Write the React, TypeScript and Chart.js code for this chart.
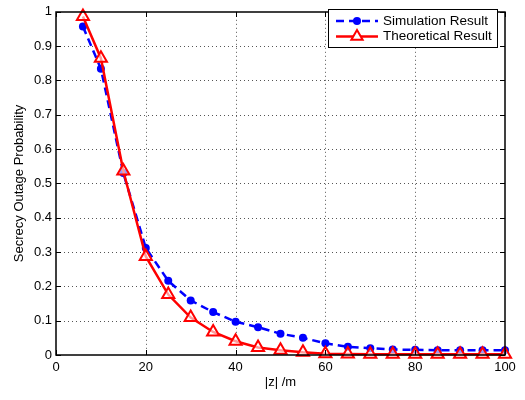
import React, { useEffect, useRef } from "react";
import { Chart, registerables } from "chart.js";
Chart.register(...registerables);

const distances = [6, 10, 15, 20, 25, 30, 35, 40, 45, 50, 55, 60, 65, 70, 75, 80, 85, 90, 95, 100];
const simulation = [0.957, 0.834, 0.53, 0.312, 0.216, 0.159, 0.125, 0.097, 0.081, 0.062, 0.05, 0.034, 0.024, 0.02, 0.016, 0.015, 0.014, 0.014, 0.014, 0.014];
const theoretical = [0.986, 0.865, 0.536, 0.287, 0.176, 0.109, 0.067, 0.04, 0.022, 0.014, 0.008, 0.004, 0.003, 0.002, 0.002, 0.002, 0.002, 0.002, 0.002, 0.002];
const xTicks = [0, 20, 40, 60, 80, 100];
const yTicks = [0, 0.1, 0.2, 0.3, 0.4, 0.5, 0.6, 0.7, 0.8, 0.9, 1];
const seriesLabels = ["Simulation Result", "Theoretical Result"];
const xTitle = "|z| /m";
const yTitle = "Secrecy Outage Probability";

const FONT = "Liberation Sans, Arial, Helvetica, sans-serif";

const matlabPlugin = {
  id: "matlabDecor",
  beforeDatasetsDraw(chart: any) {
    const { ctx, chartArea: a, scales } = chart;
    ctx.save();
    ctx.strokeStyle = "#555";
    ctx.lineWidth = 1;
    ctx.setLineDash([1, 3]);
    xTicks.forEach((v) => {
      const px = Math.round(scales.x.getPixelForValue(v)) + 0.5;
      if (v === 0 || v === 100) return;
      ctx.beginPath();
      ctx.moveTo(px, a.top);
      ctx.lineTo(px, a.bottom);
      ctx.stroke();
    });
    yTicks.forEach((v) => {
      if (v === 0 || v === 1) return;
      const py = Math.round(scales.y.getPixelForValue(v)) + 0.5;
      ctx.beginPath();
      ctx.moveTo(a.left, py);
      ctx.lineTo(a.right, py);
      ctx.stroke();
    });
    ctx.restore();
  },
  afterDraw(chart: any) {
    const { ctx, chartArea: a, scales } = chart;
    ctx.save();
    ctx.setLineDash([]);
    ctx.strokeStyle = "#000";
    ctx.lineWidth = 1.5;
    const L = Math.round(a.left), R = Math.round(a.right);
    const T = Math.round(a.top), B = Math.round(a.bottom);
    ctx.strokeRect(L, T, R - L, B - T);
    ctx.lineWidth = 1;
    const tl = 5;
    xTicks.forEach((v) => {
      const px = Math.round(scales.x.getPixelForValue(v)) + 0.5;
      ctx.beginPath();
      ctx.moveTo(px, B); ctx.lineTo(px, B - tl);
      ctx.moveTo(px, T); ctx.lineTo(px, T + tl);
      ctx.stroke();
    });
    yTicks.forEach((v) => {
      const py = Math.round(scales.y.getPixelForValue(v)) + 0.5;
      ctx.beginPath();
      ctx.moveTo(L, py); ctx.lineTo(L + tl, py);
      ctx.moveTo(R, py); ctx.lineTo(R - tl, py);
      ctx.stroke();
    });
    // legend
    const bx = 328.5, by = 9.5, bw = 169, bh = 38;
    ctx.fillStyle = "#fff";
    ctx.fillRect(bx, by, bw, bh);
    ctx.strokeRect(bx, by, bw, bh);
    const rows = [by + 11.5, by + 27];
    ctx.strokeStyle = "#0000ff";
    ctx.lineWidth = 2.5;
    ctx.setLineDash([8, 5]);
    ctx.beginPath();
    ctx.moveTo(336, rows[0]); ctx.lineTo(378, rows[0]);
    ctx.stroke();
    ctx.setLineDash([]);
    ctx.fillStyle = "#0000ff";
    ctx.beginPath();
    ctx.arc(357, rows[0], 4, 0, Math.PI * 2);
    ctx.fill();
    ctx.strokeStyle = "#ff0000";
    ctx.beginPath();
    ctx.moveTo(336, rows[1]); ctx.lineTo(378, rows[1]);
    ctx.stroke();
    ctx.lineWidth = 2;
    ctx.fillStyle = "#fff";
    const r = 6.5;
    ctx.beginPath();
    ctx.moveTo(357, rows[1] - r);
    ctx.lineTo(357 + r * 0.87, rows[1] + r * 0.5);
    ctx.lineTo(357 - r * 0.87, rows[1] + r * 0.5);
    ctx.closePath();
    ctx.fill();
    ctx.stroke();
    ctx.fillStyle = "#000";
    ctx.font = "13.5px " + FONT;
    ctx.textBaseline = "middle";
    ctx.textAlign = "left";
    ctx.fillText(seriesLabels[0], 383, rows[0]);
    ctx.fillText(seriesLabels[1], 383, rows[1]);
    ctx.restore();
  },
};

const fmt = (v: any) => String(Math.round(Number(v) * 10) / 10);

export default function App() {
  const ref = useRef<HTMLCanvasElement>(null);
  useEffect(() => {
    if (!ref.current) return;
    const chart = new Chart(ref.current, {
      type: "line",
      data: {
        datasets: [
          {
            label: seriesLabels[0],
            data: distances.map((x, i) => ({ x, y: simulation[i] })),
            borderColor: "#0000ff",
            backgroundColor: "#0000ff",
            borderWidth: 2.5,
            borderDash: [8, 5],
            pointStyle: "circle",
            pointRadius: 4,
            pointBorderWidth: 0,
            pointBackgroundColor: "#0000ff",
            clip: false as any,
            order: 1,
          },
          {
            label: seriesLabels[1],
            data: distances.map((x, i) => ({ x, y: theoretical[i] })),
            borderColor: "#ff0000",
            backgroundColor: "#fff",
            borderWidth: 2.5,
            pointStyle: "triangle",
            pointRadius: 7,
            pointBorderWidth: 2,
            pointBackgroundColor: "rgba(255,255,255,0.6)",
            pointBorderColor: "#ff0000",
            clip: false as any,
            order: 0,
          },
        ],
      },
      options: {
        responsive: false,
        animation: false,
        layout: { padding: { top: 3, right: 20, left: 0, bottom: 0 } },
        plugins: { legend: { display: false }, tooltip: { enabled: false } },
        scales: {
          x: {
            type: "linear",
            min: 0,
            max: 100,
            afterFit: (s: any) => { s.height = 45; },
            afterBuildTicks: (s: any) => { s.ticks = xTicks.map((v) => ({ value: v })); },
            grid: { display: false, drawTicks: false },
            border: { display: false },
            ticks: { color: "#000", font: { family: FONT, size: 13 }, padding: 5, maxRotation: 0, callback: fmt },
            title: { display: true, text: xTitle, color: "#000", font: { family: FONT, size: 13 }, padding: { top: 0, bottom: 10 } },
          },
          y: {
            type: "linear",
            min: 0,
            max: 1,
            afterFit: (s: any) => { s.width = 56; },
            afterBuildTicks: (s: any) => { s.ticks = yTicks.map((v) => ({ value: v })); },
            grid: { display: false, drawTicks: false },
            border: { display: false },
            ticks: { color: "#000", font: { family: FONT, size: 13 }, padding: 4, callback: fmt },
            title: { display: true, text: yTitle, color: "#000", font: { family: FONT, size: 13 }, padding: { top: 12, bottom: 0 } },
          },
        },
      },
      plugins: [matlabPlugin],
    });
    return () => chart.destroy();
  }, []);
  return (
    <div style={{ position: "fixed", left: 0, top: 0, width: 525, height: 400, background: "#fff" }}>
      <canvas ref={ref} width={525} height={400} style={{ display: "block" }} />
    </div>
  );
}
